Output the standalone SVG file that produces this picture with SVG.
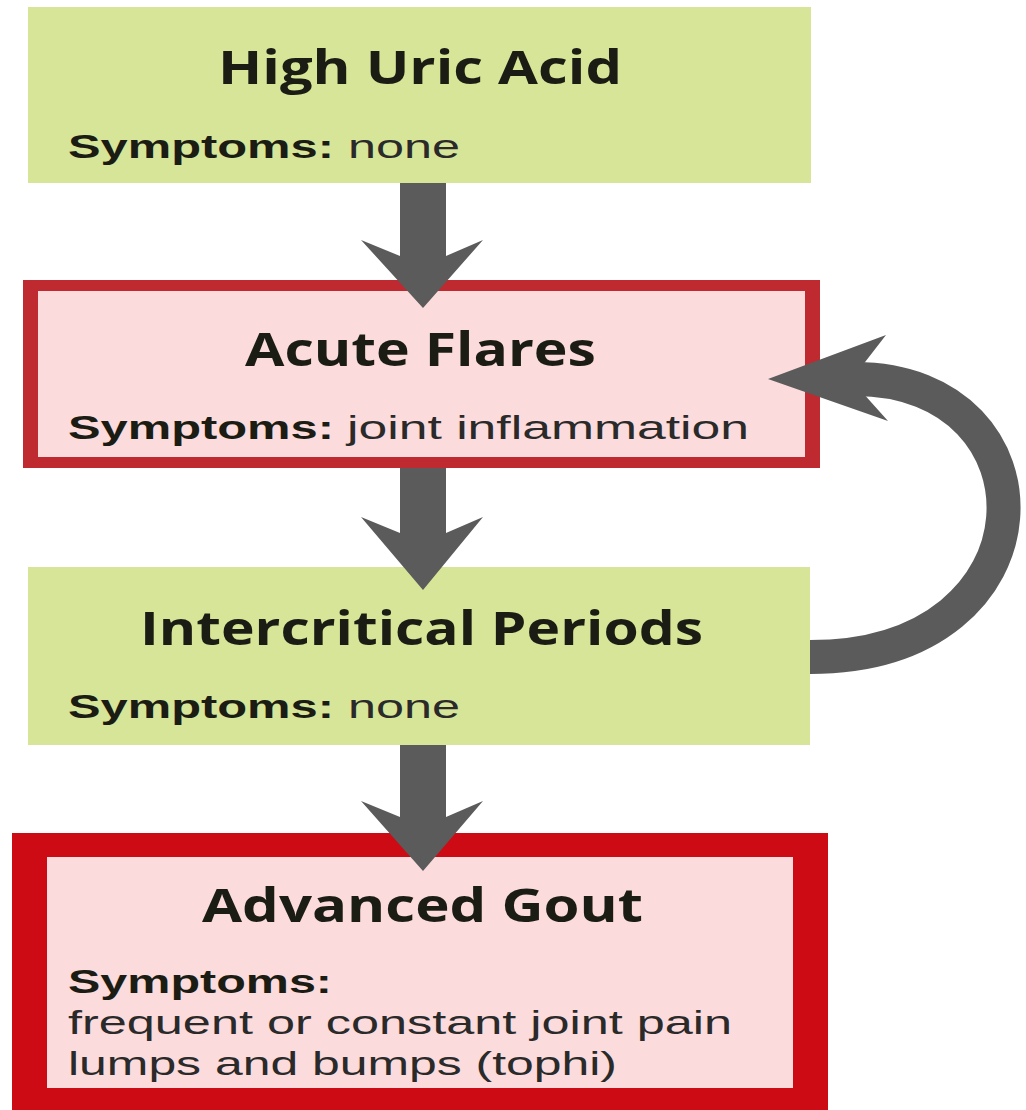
<svg xmlns="http://www.w3.org/2000/svg" width="1026" height="1110" viewBox="0 0 1026 1110">
<style>
.green{fill:#d6e597}
.pink{fill:#fcdbdc}
.title{font-family:"Open Sans","Liberation Sans",sans-serif;font-weight:700;font-size:46px;fill:#1b1d14}
.lab{font-family:"Liberation Sans","Open Sans",sans-serif;font-weight:700;font-size:33px;fill:#1b1d14}
.val{font-family:"Liberation Sans","Open Sans",sans-serif;font-weight:400;font-size:33px;fill:#2a2a2a}
.arrow{fill:#5b5b5b}
</style>
<rect width="1026" height="1110" fill="#ffffff"/>
<g id="node-high-uric-acid">
<rect class="green" x="28" y="7" width="783" height="176"/>
<text class="title" x="218" y="84" textLength="404" lengthAdjust="spacingAndGlyphs">High Uric Acid</text>
<text class="lab" x="68" y="158" textLength="266" lengthAdjust="spacingAndGlyphs">Symptoms:</text>
<text class="val" x="348" y="158" textLength="112" lengthAdjust="spacingAndGlyphs">none</text>
</g>
<g id="node-acute-flares">
<rect x="23" y="280" width="797" height="188" fill="#bf2a30"/>
<rect class="pink" x="38" y="291" width="767" height="166"/>
<text class="title" x="245" y="366" textLength="351" lengthAdjust="spacingAndGlyphs">Acute Flares</text>
<text class="lab" x="68" y="439" textLength="266" lengthAdjust="spacingAndGlyphs">Symptoms:</text>
<text class="val" x="347" y="439" textLength="402" lengthAdjust="spacingAndGlyphs">joint inflammation</text>
</g>
<g id="node-intercritical-periods">
<rect class="green" x="28" y="567" width="782" height="178"/>
<text class="title" x="140" y="645" textLength="563" lengthAdjust="spacingAndGlyphs">Intercritical Periods</text>
<text class="lab" x="68" y="718" textLength="266" lengthAdjust="spacingAndGlyphs">Symptoms:</text>
<text class="val" x="348" y="718" textLength="112" lengthAdjust="spacingAndGlyphs">none</text>
</g>
<g id="node-advanced-gout">
<rect x="12" y="833" width="816" height="290" fill="#cc0b14"/>
<rect class="pink" x="47" y="857" width="746" height="231"/>
<text class="title" x="202" y="922" textLength="441" lengthAdjust="spacingAndGlyphs">Advanced Gout</text>
<text class="lab" x="68" y="993" textLength="264" lengthAdjust="spacingAndGlyphs">Symptoms:</text>
<text class="val" x="68" y="1034" textLength="664" lengthAdjust="spacingAndGlyphs">frequent or constant joint pain</text>
<text class="val" x="68" y="1075" textLength="549" lengthAdjust="spacingAndGlyphs">lumps and bumps (tophi)</text>
</g>
<g id="connectors">
<path class="arrow" d="M400,183 H446 V256 L483,240 L423,308 L361,240 L400,256 Z"/>
<path class="arrow" d="M400,468 H446 V533 L483,517 L423,590 L361,517 L400,533 Z"/>
<path class="arrow" d="M400,745 H446 V817 L483,801 L423,871 L361,801 L400,817 Z"/>
<path d="M810,657 C1060,657 1060,379 855,379" fill="none" stroke="#5b5b5b" stroke-width="34"/>
<polygon class="arrow" points="768,379 886,335 862,366 862,392 888,421"/>
</g>
</svg>
